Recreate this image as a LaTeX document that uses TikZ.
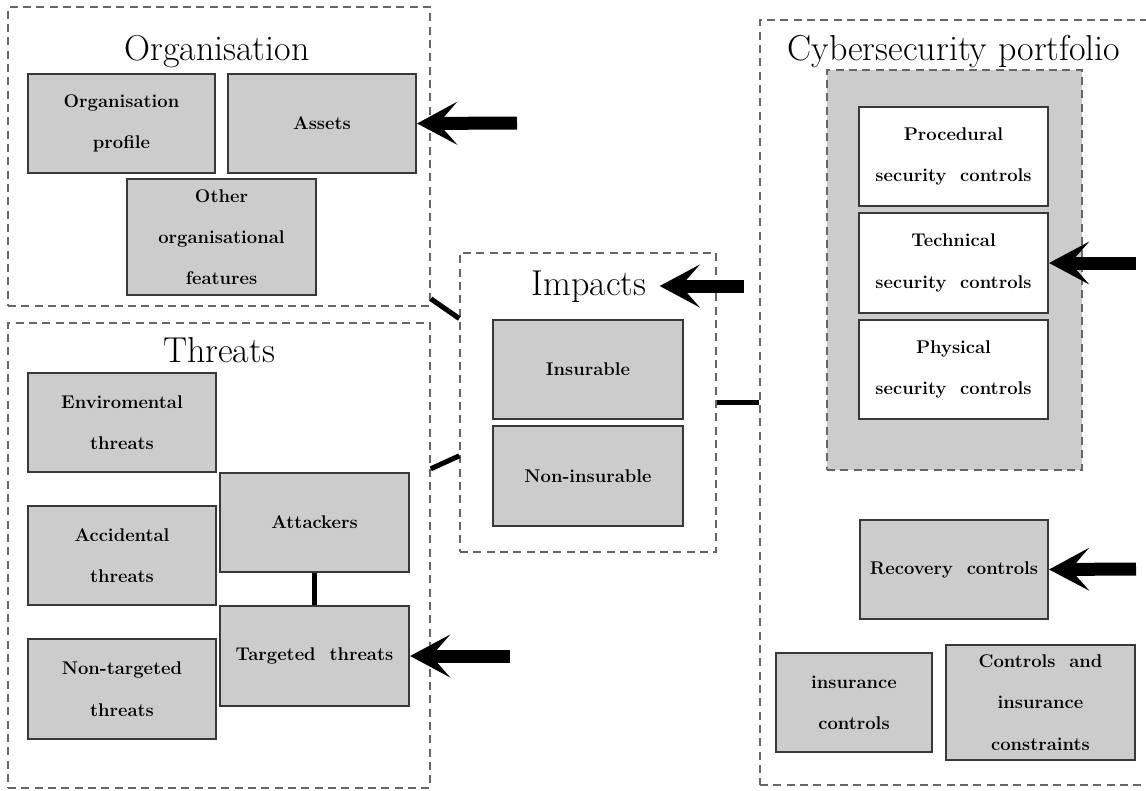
\documentclass[tikz,border=0pt]{standalone}
\usetikzlibrary{arrows.meta,fit,calc}
\begin{document}
\begin{tikzpicture}[x=0.75pt,y=-0.75pt,
 frame/.style={draw=black!60, dash pattern=on 6pt off 4pt, line width=1.1pt, inner sep=0pt},
 place/.style args={#1/#2/#3/#4}{minimum width={(#3-#1)*0.75pt}, minimum height={(#4-#2)*0.75pt}, at={({(#1+#3)/2},{(#2+#4)/2})}},
 box/.style={draw=black!78, fill=black!20, line width=1.6pt, inner sep=0pt, align=center, font=\fontsize{13.8}{31}\bfseries},
 wbox/.style={box, fill=white},
 title/.style={font=\fontsize{27}{32}\selectfont, anchor=base, inner sep=0pt},
 bigarrow/.style={line width=9.75pt, -{Stealth[length=30pt,width=32pt,inset=14pt]}},
 link/.style={line width=3.8pt}]
\useasboundingbox (0,0) rectangle (1146,790);
\clip (0,0) rectangle (1146,790);
% frames
\node[frame, fit={(8,7) (430,306)}] (org) {};
\node[frame, fit={(8,323) (430,788)}] (thr) {};
\node[frame, fit={(460,253) (716,552)}] (imp) {};
\node[frame, fit={(760,20) (1165,785)}] (cyb) {};
\node[frame, fill=black!20, fit={(827,70) (1082,470)}] (ctrl) {};
% titles
\node[title] (orgt) at (217,60) {Organisation};
\node[title] (thrt) at (219,362) {Threats};
\node[title] (impt) at (589,295) {Impacts};
\node[title] (cybt) at (954,60) {Cybersecurity portfolio};
% organisation
\node[box, place=28/74/215/173] (prof) {Organisation\\profile};
\node[box, place=228/74/416/173] (assets) {Assets};
\node[box, place=127/179/316/295] (other) {Other\\organisational\\features};
% threats
\node[box, place=28/373/216/472] (env) {Enviromental\\threats};
\node[box, place=28/506/216/605] (acc) {Accidental\\threats};
\node[box, place=28/639/216/739] (nont) {Non-targeted\\threats};
\node[box, place=220/473/409/572] (att) {Attackers};
\node[box, place=220/606/409/706] (tgt) {Targeted\ \ threats};
% impacts
\node[box, place=493/320/683/419] (ins) {Insurable};
\node[box, place=493/426/683/526] (nins) {Non-insurable};
% cyber
\node[wbox, place=859/107/1048/206] (proc) {Procedural\\security\ \ controls};
\node[wbox, place=859/213/1048/313] (tech) {Technical\\security\ \ controls};
\node[wbox, place=859/320/1048/419] (phys) {Physical\\security\ \ controls};
\node[box, place=860/520/1048/619] (rec) {Recovery\ \ controls};
\node[box, place=776/653/932/752] (insc) {insurance\\controls};
\node[box, place=946/645/1135/760] (cic) {Controls\ \ and\\insurance\\constraints};
% links
\draw[link] ([yshift=6pt]org.south east) -- ([yshift=63pt]imp.west);
\draw[link] ([yshift=65pt]thr.east) -- ([yshift=-40pt]imp.west);
\draw[link] (imp.east) -- (imp.east -| cyb.west);
\draw[link] (att.south) -- (tgt.north);
% arrows
\coordinate (s1) at (517,123);
\coordinate (s2) at (510,656);
\coordinate (s3) at (744,286);
\coordinate (s4) at (1136,263);
\coordinate (s5) at (1136,569);
\draw[bigarrow] (s1) -- (assets.east);
\draw[bigarrow] (s2) -- (tgt.east);
\draw[bigarrow] (s3) -- ($(s3 -| impt.east)+(13,0)$);
\draw[bigarrow] (s4) -- (tech.east);
\draw[bigarrow] (s5) -- (rec.east);
\end{tikzpicture}
\end{document}
